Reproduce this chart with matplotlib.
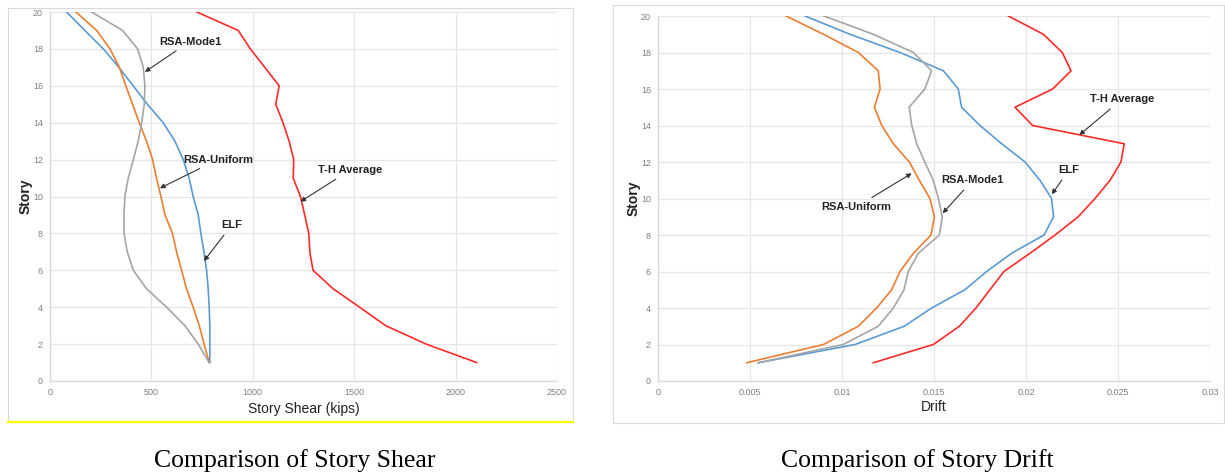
import matplotlib
matplotlib.use("Agg")
import matplotlib.pyplot as plt
from matplotlib.patches import Rectangle
from matplotlib.lines import Line2D

stories = list(range(1, 21))

# ---- Story shear (kips), stories 1..20
shear_th = [2104, 1855, 1655, 1527, 1396, 1297, 1281, 1276, 1256, 1235,
            1199, 1202, 1179, 1149, 1113, 1130, 1059, 988, 928, 724]
shear_elf = [788, 788, 788, 785, 780, 772, 759, 744, 731, 706,
             686, 657, 616, 558, 480, 410, 340, 263, 172, 82]
shear_uni = [785, 760, 736, 706, 673, 649, 624, 604, 567, 547,
             525, 506, 476, 440, 407, 374, 342, 296, 230, 128]
shear_mode1 = [785, 731, 665, 575, 476, 411, 381, 365, 365, 369,
               386, 411, 435, 452, 465, 468, 460, 432, 358, 205]

# ---- Drift, stories 1..20
drift_th = [0.0117, 0.01496, 0.01638, 0.01728, 0.01804, 0.0188, 0.02022, 0.02158, 0.02284, 0.02375,
            0.02457, 0.02516, 0.02534, 0.02036, 0.0194, 0.02145, 0.02245, 0.02197, 0.02094, 0.01904]
drift_elf = [0.00545, 0.01071, 0.01338, 0.01487, 0.01668, 0.01786, 0.01922, 0.02098, 0.0215, 0.02139,
             0.02076, 0.01995, 0.01868, 0.0175, 0.0165, 0.01632, 0.01551, 0.01315, 0.01043, 0.00799]
drift_uni = [0.00482, 0.00899, 0.01089, 0.01188, 0.0127, 0.01315, 0.01388, 0.01484, 0.01502, 0.01478,
             0.0142, 0.01366, 0.01279, 0.01216, 0.01176, 0.01207, 0.01197, 0.01089, 0.00899, 0.00696]
drift_mode1 = [0.00545, 0.01007, 0.01197, 0.01279, 0.01337, 0.0136, 0.01415, 0.01529, 0.01545, 0.01524,
               0.01496, 0.0145, 0.01406, 0.01379, 0.01365, 0.0145, 0.01487, 0.01388, 0.0117, 0.00902]

shear_ticks = [0, 500, 1000, 1500, 2000, 2500]
drift_ticks = [0, 0.005, 0.01, 0.015, 0.02, 0.025, 0.03]
drift_tick_labels = ["0", "0.005", "0.01", "0.015", "0.02", "0.025", "0.03"]
story_ticks = [0, 2, 4, 6, 8, 10, 12, 14, 16, 18, 20]

C_RED = "#FF2A2A"
C_ORG = "#ED7D31"
C_BLU = "#5B9BD5"
C_GRY = "#A5A5A5"

plt.rcParams['font.family'] = ['Liberation Sans', 'DejaVu Sans']

fig = plt.figure(figsize=(12.25, 4.75), dpi=100)
W, H = 1225, 475

# panel frames
fig.patches.append(Rectangle((8 / W, 1 - 422 / H), (573 - 8) / W, (422 - 8) / H,
                             transform=fig.transFigure, fill=False, ec="#D9D9D9", lw=0.8))
fig.add_artist(Line2D([8 / W, 573 / W], [1 - 422 / H, 1 - 422 / H], transform=fig.transFigure,
                      color="#FFFF00", lw=1.6))
fig.patches.append(Rectangle((613 / W, 1 - 423 / H), (1224 - 613) / W, (423 - 5) / H,
                             transform=fig.transFigure, fill=False, ec="#D9D9D9", lw=0.8))

ax1 = fig.add_axes([50 / W, 1 - 381 / H, (557 - 50) / W, (381 - 12) / H])
ax2 = fig.add_axes([658 / W, 1 - 381 / H, (1210 - 658) / W, (381 - 16) / H])

lw = 1.2
ax1.plot(shear_th, stories, color=C_RED, lw=lw)
ax1.plot(shear_elf, stories, color=C_BLU, lw=lw)
ax1.plot(shear_uni, stories, color=C_ORG, lw=lw)
ax1.plot(shear_mode1, stories, color=C_GRY, lw=lw)

ax2.plot(drift_th, stories, color=C_RED, lw=lw)
ax2.plot(drift_elf, stories, color=C_BLU, lw=lw)
ax2.plot(drift_uni, stories, color=C_ORG, lw=lw)
ax2.plot(drift_mode1, stories, color=C_GRY, lw=lw)

for ax in (ax1, ax2):
    ax.set_ylim(0, 20)
    ax.set_yticks(story_ticks)
    ax.grid(True, color="#E6E6E6", lw=0.9)
    ax.set_axisbelow(True)
    for side in ("top", "right"):
        ax.spines[side].set_visible(False)
    for side in ("left", "bottom"):
        ax.spines[side].set_color("#D9D9D9")
        ax.spines[side].set_linewidth(1.0)
    ax.tick_params(length=0, labelsize=6.5, labelcolor="#808080", pad=5)
    ax.set_ylabel("Story", fontsize=10, fontweight="bold", color="#222222", labelpad=0)

ax1.set_xlim(0, 2500)
ax1.set_xticks(shear_ticks)
ax1.set_xlabel("Story Shear (kips)", fontsize=10, color="#222222", labelpad=4)

ax2.set_xlim(0, 0.03)
ax2.set_xticks(drift_ticks)
ax2.set_xticklabels(drift_tick_labels)
ax2.set_xlabel("Drift", fontsize=10, color="#222222", labelpad=2)

arrow = dict(arrowstyle="-|>", color="#333333", lw=0.8, mutation_scale=7, shrinkA=2, shrinkB=0)
tkw = dict(fontsize=8, fontweight="bold", color="#222222", ha="center", va="center")

ax1.annotate("RSA-Mode1", xy=(468, 16.75), xytext=(690, 18.4), arrowprops=arrow, **tkw)
ax1.annotate("RSA-Uniform", xy=(542, 10.45), xytext=(828, 12.0), arrowprops=arrow, **tkw)
ax1.annotate("ELF", xy=(759, 6.5), xytext=(896, 8.45), arrowprops=arrow, **tkw)
ax1.annotate("T-H Average", xy=(1235, 9.72), xytext=(1481, 11.44), arrowprops=arrow, **tkw)

ax2.annotate("T-H Average", xy=(0.0229, 13.48), xytext=(0.0252, 15.43), arrowprops=arrow, **tkw)
ax2.annotate("ELF", xy=(0.0214, 10.23), xytext=(0.02234, 11.56), arrowprops=arrow, **tkw)
ax2.annotate("RSA-Mode1", xy=(0.01547, 9.19), xytext=(0.0171, 11.0), arrowprops=arrow, **tkw)
ax2.annotate("RSA-Uniform", xy=(0.01379, 11.38), xytext=(0.0108, 9.55), arrowprops=arrow, **tkw)

fig.text(295 / W, 1 - 461 / H, "Comparison of Story Shear", family="Liberation Serif",
         fontsize=18.5, ha="center", va="center", color="black")
fig.text(917 / W, 1 - 461 / H, "Comparison of Story Drift", family="Liberation Serif",
         fontsize=18.5, ha="center", va="center", color="black")

fig.savefig("out.png", dpi=100)
